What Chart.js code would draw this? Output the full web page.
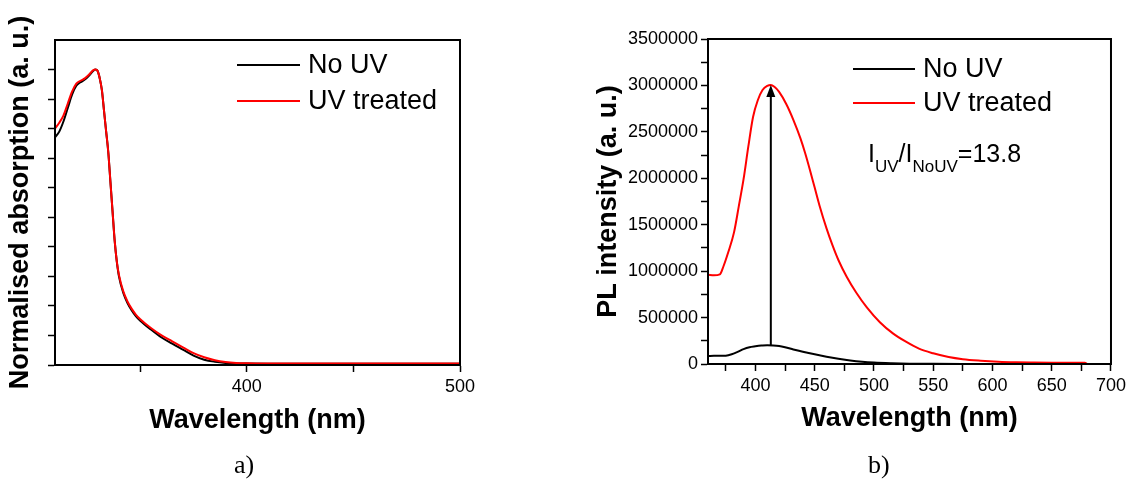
<!DOCTYPE html>
<html>
<head>
<meta charset="utf-8">
<script src="https://cdn.jsdelivr.net/npm/chart.js@4.4.1/dist/chart.umd.min.js"></script>
<style>
  html, body { margin: 0; padding: 0; background: #fff; }
  #wrap { position: relative; width: 1130px; height: 479px; }
  .panel { position: absolute; top: 0; width: 565px; height: 479px; }
  .tag { position: absolute; top: 450px; line-height: 26px; font: 26px "Liberation Serif", "Times New Roman", serif; color: #000; }
</style>
</head>
<body>
<div id="wrap">
  <div class="panel" style="left:0"><canvas id="absChart"></canvas></div>
  <div class="panel" style="left:565px"><canvas id="plChart"></canvas></div>
  <div class="tag" style="left:234px">a)</div>
  <div class="tag" style="left:868px">b)</div>
</div>
<script>
// series names (shared by both panels)
const seriesNames = ['No UV', 'UV treated'];

// a) normalised absorption
const absWavelength = [310, 312, 314, 316, 318, 320, 322, 324, 326, 328, 329, 330, 331, 332, 333, 334, 335, 336, 337, 338, 339, 340, 342, 344, 346, 348, 350, 355, 360, 365, 370, 375, 380, 385, 390, 395, 400, 420, 450, 480, 500];
const absNoUV = [0.77, 0.79, 0.825, 0.87, 0.915, 0.945, 0.957, 0.966, 0.98, 0.996, 1.0, 0.995, 0.97, 0.93, 0.86, 0.79, 0.72, 0.62, 0.52, 0.42, 0.35, 0.30, 0.245, 0.21, 0.185, 0.165, 0.15, 0.12, 0.093, 0.072, 0.052, 0.032, 0.018, 0.011, 0.007, 0.005, 0.005, 0.004, 0.004, 0.004, 0.004];
const absUV = [0.80, 0.82, 0.845, 0.885, 0.925, 0.952, 0.962, 0.97, 0.983, 0.998, 1.0, 0.995, 0.97, 0.93, 0.86, 0.79, 0.72, 0.62, 0.52, 0.42, 0.35, 0.305, 0.25, 0.215, 0.19, 0.17, 0.155, 0.125, 0.10, 0.08, 0.06, 0.04, 0.026, 0.016, 0.01, 0.007, 0.006, 0.005, 0.005, 0.005, 0.005];
const absTicksX = [350, 400, 450, 500];
const absLabelsX = [400, 500];
const absTicksY = [0, 0.1, 0.2, 0.3, 0.4, 0.5, 0.6, 0.7, 0.8, 0.9, 1.0];

// b) PL intensity
const plWavelengthUV = [360, 365, 370, 373, 377, 382, 386, 390, 394, 398, 402, 406, 410, 413, 416, 420, 426, 432, 438, 442, 446, 450, 454, 460, 465, 470, 477, 485, 494, 505, 516, 527, 538, 550, 563, 575, 590, 605, 620, 635, 650, 665, 678, 680, 700];
const plUV = [960000, 955000, 965000, 1050000, 1200000, 1420000, 1700000, 1990000, 2340000, 2660000, 2840000, 2950000, 2995000, 3005000, 2985000, 2930000, 2800000, 2630000, 2430000, 2270000, 2090000, 1900000, 1710000, 1460000, 1280000, 1120000, 940000, 770000, 610000, 450000, 330000, 240000, 165000, 115000, 75000, 52000, 36000, 25000, 19000, 16000, 14000, 13000, 13000, 0, 0];
const plWavelengthNoUV = [360, 365, 370, 375, 380, 385, 390, 395, 400, 405, 410, 415, 420, 425, 432, 440, 450, 460, 470, 480, 490, 500, 515, 530, 550, 580];
const plNoUV = [85000, 88000, 88000, 90000, 105000, 130000, 160000, 180000, 190000, 198000, 203000, 200000, 193000, 180000, 157000, 132000, 104000, 79000, 57000, 38000, 24000, 15000, 8000, 4000, 2000, 1000];
const plTicksX = [375, 400, 425, 450, 475, 500, 525, 550, 575, 600, 625, 650, 675, 700];
const plLabelsX = [400, 450, 500, 550, 600, 650, 700];
const plTicksY = [0, 250000, 500000, 750000, 1000000, 1250000, 1500000, 1750000, 2000000, 2250000, 2500000, 2750000, 3000000, 3250000, 3500000];
const plLabelsY = [0, 500000, 1000000, 1500000, 2000000, 2500000, 3000000, 3500000];

// ratio annotation, anchored in data units
const ratioParts = [['I', 'main'], ['UV', 'sub'], ['/', 'main'], ['I', 'main'], ['NoUV', 'sub'], ['=13.8', 'main']];
const ratioAt = { x: 495, y: 2180000 };

// arrow from the No UV peak to the UV treated peak
const arrowTo = Math.max(...plUV);
const arrowFrom = Math.max(...plNoUV);
const arrowAt = plWavelengthUV[plUV.indexOf(arrowTo)];

const FONT = '"Liberation Sans", Arial, sans-serif';
Chart.defaults.font.family = FONT;
Chart.defaults.color = '#000';

const toPoints = (xs, ys) => xs.map((x, i) => ({ x: x, y: ys[i] }));

// top and right edges of the box
const framePlugin = {
  id: 'frame',
  afterDatasetsDraw(chart) {
    const a = chart.chartArea, ctx = chart.ctx;
    ctx.save();
    ctx.strokeStyle = '#000';
    ctx.lineWidth = 2;
    ctx.strokeRect(a.left, a.top, a.right - a.left, a.bottom - a.top);
    ctx.restore();
  }
};

// legend drawn inside the plot area
const lineLegend = {
  id: 'lineLegend',
  afterDraw(chart, args, o) {
    const ctx = chart.ctx;
    ctx.save();
    chart.data.datasets.forEach((ds, i) => {
      const y = o.y + i * o.row;
      ctx.strokeStyle = ds.borderColor;
      ctx.lineWidth = 2;
      ctx.beginPath();
      ctx.moveTo(o.x, y);
      ctx.lineTo(o.x + o.len, y);
      ctx.stroke();
      ctx.fillStyle = '#000';
      ctx.font = '27px ' + FONT;
      ctx.textBaseline = 'middle';
      ctx.textAlign = 'left';
      ctx.fillText(ds.label, o.x + o.len + o.gap, y + 1);
    });
    ctx.restore();
  }
};

const arrowPlugin = {
  id: 'peakArrow',
  afterDatasetsDraw(chart) {
    const ctx = chart.ctx, xs = chart.scales.x, ys = chart.scales.y;
    const x = xs.getPixelForValue(arrowAt);
    const y0 = ys.getPixelForValue(arrowFrom);
    const y1 = ys.getPixelForValue(arrowTo);
    ctx.save();
    ctx.strokeStyle = '#000';
    ctx.fillStyle = '#000';
    ctx.lineWidth = 2;
    ctx.beginPath();
    ctx.moveTo(x, y0);
    ctx.lineTo(x, y1 + 8);
    ctx.stroke();
    ctx.beginPath();
    ctx.moveTo(x, y1);
    ctx.lineTo(x - 4.5, y1 + 12);
    ctx.lineTo(x + 4.5, y1 + 12);
    ctx.closePath();
    ctx.fill();

    // I_UV / I_NoUV = 13.8
    let px = xs.getPixelForValue(ratioAt.x);
    const py = ys.getPixelForValue(ratioAt.y);
    ctx.textBaseline = 'alphabetic';
    ctx.textAlign = 'left';
    ratioParts.forEach(([t, kind]) => {
      ctx.font = (kind === 'sub' ? '17px ' : '25px ') + FONT;
      ctx.fillText(t, px, kind === 'sub' ? py + 10 : py);
      px += ctx.measureText(t).width;
    });
    ctx.restore();
  }
};

const axisCommon = {
  border: { color: '#000', width: 2 },
  grid: { drawOnChartArea: false, color: '#000', tickLength: 7, tickWidth: 1.5 }
};

new Chart(document.getElementById('absChart'), {
  type: 'line',
  data: {
    datasets: [
      { label: seriesNames[0], data: toPoints(absWavelength, absNoUV), borderColor: '#000000', order: 1 },
      { label: seriesNames[1], data: toPoints(absWavelength, absUV), borderColor: '#ff0000', order: 0 }
    ]
  },
  options: {
    responsive: true,
    maintainAspectRatio: false,
    animation: false,
    events: [],
    layout: { padding: { left: 0, top: 40, right: 105, bottom: 0 } },
    elements: { point: { radius: 0 }, line: { borderWidth: 2, cubicInterpolationMode: 'monotone' } },
    plugins: {
      legend: { display: false },
      tooltip: { enabled: false },
      lineLegend: { x: 237, y: 65, len: 63, gap: 8, row: 36 }
    },
    scales: {
      x: {
        type: 'linear', min: 310, max: 500,
        ...axisCommon,
        afterBuildTicks: s => { s.ticks = absTicksX.map(v => ({ value: v })); },
        afterFit: s => { s.height = 114; },
        ticks: { padding: 4, font: { size: 18 }, autoSkip: false, maxRotation: 0,
          callback: v => absLabelsX.includes(v) ? String(v) : '' },
        title: { display: true, text: 'Wavelength (nm)', font: { size: 27, weight: 'bold' }, padding: { top: 0, bottom: 42 } }
      },
      y: {
        type: 'linear', min: 0, max: 1.1,
        ...axisCommon,
        afterBuildTicks: s => { s.ticks = absTicksY.map(v => ({ value: v })); },
        afterFit: s => { s.width = 55; },
        ticks: { callback: () => '' },
        title: { display: true, text: 'Normalised absorption (a. u.)', font: { size: 27, weight: 'bold' }, padding: { top: 4, bottom: 0 } }
      }
    }
  },
  plugins: [framePlugin, lineLegend]
});

new Chart(document.getElementById('plChart'), {
  type: 'line',
  data: {
    datasets: [
      { label: seriesNames[0], data: toPoints(plWavelengthNoUV, plNoUV), borderColor: '#000000', order: 1 },
      { label: seriesNames[1], data: toPoints(plWavelengthUV, plUV), borderColor: '#ff0000', order: 0 }
    ]
  },
  options: {
    responsive: true,
    maintainAspectRatio: false,
    animation: false,
    events: [],
    layout: { padding: { left: 0, top: 39, right: 17, bottom: 0 } },
    elements: { point: { radius: 0 }, line: { borderWidth: 2, cubicInterpolationMode: 'monotone' } },
    plugins: {
      legend: { display: false },
      tooltip: { enabled: false },
      lineLegend: { x: 288, y: 69, len: 62, gap: 8, row: 34 }
    },
    scales: {
      x: {
        type: 'linear', min: 360, max: 700,
        ...axisCommon,
        afterBuildTicks: s => { s.ticks = plTicksX.map(v => ({ value: v })); },
        afterFit: s => { s.height = 115; },
        ticks: { padding: 4, font: { size: 18 }, autoSkip: false, maxRotation: 0,
          callback: v => plLabelsX.includes(v) ? String(v) : '' },
        title: { display: true, text: 'Wavelength (nm)', font: { size: 27, weight: 'bold' }, padding: { top: 0, bottom: 44 } }
      },
      y: {
        type: 'linear', min: 0, max: 3500000,
        ...axisCommon,
        afterBuildTicks: s => { s.ticks = plTicksY.map(v => ({ value: v })); },
        afterFit: s => { s.width = 143; },
        ticks: { padding: 3, font: { size: 18 }, autoSkip: false,
          callback: v => plLabelsY.includes(v) ? String(v) : '' },
        title: { display: true, text: 'PL intensity (a. u.)', font: { size: 27, weight: 'bold' }, padding: { top: 27, bottom: 0 } }
      }
    }
  },
  plugins: [framePlugin, lineLegend, arrowPlugin]
});
</script>
</body>
</html>
